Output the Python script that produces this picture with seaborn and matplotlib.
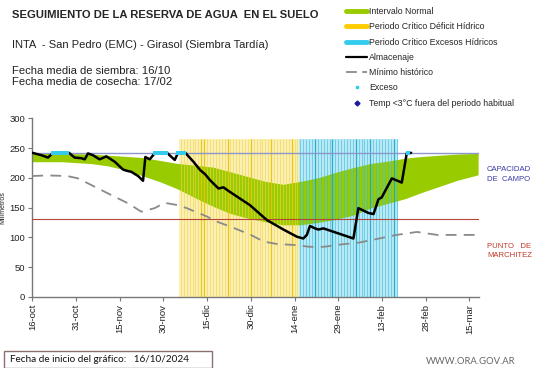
#!/usr/bin/env python3
"""Seguimiento de la reserva de agua en el suelo - INTA San Pedro, girasol."""

import matplotlib

matplotlib.use("Agg")
import matplotlib.pyplot as plt
import numpy as np
import pandas as pd
import seaborn as sns
from matplotlib.lines import Line2D
from matplotlib.patches import Rectangle

# --- data (x = days since 16-oct-2024) ---------------------------------------
tick_days = [0, 15, 30, 45, 60, 75, 90, 105, 120, 135, 150]
tick_labels = ["16-oct", "31-oct", "15-nov", "30-nov", "15-dic", "30-dic",
               "14-ene", "29-ene", "13-feb", "28-feb", "15-mar"]

band_days = [0, 10, 20, 26, 32, 38, 44, 50, 56, 62, 68, 74, 80, 86, 92, 98,
             104, 110, 116, 122, 128, 134, 140, 146, 153]
band_upper = [241, 241, 240, 238, 236, 234, 229, 224, 221, 218, 210, 202, 194,
              189, 194, 200, 209, 217, 224, 228, 233, 236, 238, 240, 241]
band_lower = [227, 227, 224, 220, 213, 203, 193, 181, 166, 152, 140, 132, 126,
              121, 121, 125, 130, 137, 149, 157, 165, 176, 186, 196, 205]

alm_days = [0, 3.1, 5.4, 7.1, 12.6, 14.5, 16.8, 18, 19.1, 20.8, 23.1, 25.4,
            28.3, 31.1, 32.3, 34, 36.3, 38, 38.8, 40.3, 41.8, 42.2, 46.2, 48.9,
            50, 52.5, 55.3, 57.6, 59.3, 61, 63.9, 65.6, 67.3, 74.7, 80.5, 86.2,
            90.8, 93, 94.2, 95.3, 97, 98.2, 99.9, 110.2, 111.9, 115.3, 117.1,
            118.8, 119.9, 123.4, 126.8, 128.5, 130]
alm_mm = [242, 238, 234, 242, 242, 234, 233, 231, 241, 238, 231, 236,
          227, 214, 212, 210, 203, 195, 235, 231, 240, 242, 242, 230,
          242, 242, 227, 213, 206, 196, 182, 184, 178, 154, 129, 113,
          101, 98, 104, 119, 115, 113, 115, 98, 149, 141, 139,
          164, 167, 199, 192, 241, 242]

min_days = [0, 5, 12, 15.7, 21.4, 27.1, 32.9, 37.4, 42, 45.4, 50, 53, 59.9,
            63, 69, 75, 79.3, 83.6, 90, 95.3, 100, 106, 112, 118, 125, 132,
            139, 146, 153]
min_mm = [203, 204, 203, 199, 185, 171, 157, 143, 149, 158, 154, 149, 135,
          127, 116, 104, 93, 89, 87, 84, 84, 88, 91, 97, 104, 109,
          104, 104, 104]

exceso_days = [7, 8, 9, 10, 11, 12, 42, 43, 44, 45, 46, 50, 51, 52, 129]

deficit_period = (51, 91)   # periodo critico deficit hidrico
excesos_period = (92, 125)  # periodo critico excesos hidricos
deficit_strong = [58, 59, 67, 75, 82, 89]
excesos_strong = [97, 103, 111, 116, 124]

capacidad_campo = 242
punto_marchitez = 130

# --- style -------------------------------------------------------------------
sns.set_style("ticks")
plt.rcParams["font.family"] = ["Liberation Sans", "DejaVu Sans"]

GREEN = "#99cc00"
YEL_PALE, YEL_LINE, YEL_STRONG = "#fbf0b8", "#f3d64a", "#e9c300"
BLU_PALE, BLU_LINE, BLU_STRONG = "#bfeaf6", "#38bedc", "#1aa7cc"
CYAN = "#33ccee"

fig = plt.figure(figsize=(5.41, 3.68), dpi=100)
W, H = 541, 368
ax = fig.add_axes([32.3 / W, 1 - 296.8 / H, (479 - 32.3) / W, (296.8 - 118.3) / H])

stripe_top = 266
for (d0, d1), pale, line, strong, strong_days in [
    (deficit_period, YEL_PALE, YEL_LINE, YEL_STRONG, deficit_strong),
    (excesos_period, BLU_PALE, BLU_LINE, BLU_STRONG, excesos_strong),
]:
    days = np.arange(d0, d1 + 1)
    ax.bar(days, stripe_top, width=1.0, color=pale, linewidth=0, zorder=1)
    ax.vlines(days, 0, stripe_top, colors=line, lw=0.8, alpha=0.6, zorder=3)
    ax.vlines(strong_days, 0, stripe_top, colors=strong, lw=0.9, alpha=0.85, zorder=3)

ax.fill_between(band_days, band_lower, band_upper, color=GREEN, lw=0, zorder=2)

ax.axhline(capacidad_campo, color="#8c98cc", lw=1.0, zorder=3.5)
ax.axhline(punto_marchitez, color="#b8453b", lw=0.8, zorder=3.5)

alm = pd.DataFrame({"dia": alm_days, "mm": alm_mm})
mini = pd.DataFrame({"dia": min_days, "mm": min_mm})
sns.lineplot(data=mini, x="dia", y="mm", ax=ax, color="#8a8a8a", lw=1.3,
             sort=False, zorder=4).lines[-1].set_dashes((6, 4))
sns.lineplot(data=alm, x="dia", y="mm", ax=ax, color="black", lw=1.8,
             sort=False, zorder=5)
ax.scatter(exceso_days, [capacidad_campo] * len(exceso_days), s=9, marker="s",
           color=CYAN, linewidths=0, zorder=6)

ax.set_xlim(0, 153.3)
ax.set_ylim(0, 300)
ax.set_xticks(tick_days)
ax.set_xticklabels(tick_labels, rotation=90, fontsize=6.8, color="#222222")
ax.set_yticks([0, 50, 100, 150, 200, 250, 300])
ax.tick_params(axis="y", labelsize=6.8, labelcolor="#222222")
ax.tick_params(length=3, width=0.8, color="#777777", pad=2)
ax.set_xlabel("")
ax.set_ylabel("Milímetros", fontsize=5, labelpad=2)
sns.despine(ax=ax)
for s in ("left", "bottom"):
    ax.spines[s].set_color("#777777")
    ax.spines[s].set_linewidth(1.0)

# --- header texts ------------------------------------------------------------
fig.text(12 / W, 1 - 15 / H, "SEGUIMIENTO DE LA RESERVA DE AGUA  EN EL SUELO",
         fontsize=8.1, fontweight="bold", va="center")
fig.text(12 / W, 1 - 45 / H, "INTA  - San Pedro (EMC) - Girasol (Siembra Tardía)",
         fontsize=8.0, va="center", color="#222222")
fig.text(12 / W, 1 - 71 / H, "Fecha media de siembra: 16/10", fontsize=8.1,
         va="center", color="#222222")
fig.text(12 / W, 1 - 82 / H, "Fecha media de cosecha: 17/02", fontsize=8.1,
         va="center", color="#222222")

# --- legend ------------------------------------------------------------------
handles = [
    Line2D([], [], color=GREEN, lw=3.5),
    Line2D([], [], color="#ffcc00", lw=3.5),
    Line2D([], [], color=CYAN, lw=3.5),
    Line2D([], [], color="black", lw=1.6),
    Line2D([], [], color="#8a8a8a", lw=1.3, dashes=(6, 3)),
    Line2D([], [], ls="", marker="s", ms=2, color=CYAN),
    Line2D([], [], ls="", marker="D", ms=2.5, color="#1a1aa0"),
]
labels = ["Intervalo Normal", "Periodo Crítico Déficit Hídrico",
          "Periodo Crítico Excesos Hídricos", "Almacenaje", "Mínimo histórico",
          "Exceso", "Temp <3°C fuera del periodo habitual"]
fig.legend(handles, labels, loc="upper left",
           bbox_to_anchor=(346 / W, 1 - 7 / H), frameon=False, fontsize=6.3,
           handlelength=2.4, handletextpad=0.25, labelspacing=0.72,
           borderpad=0, borderaxespad=0)

# --- right side labels ---------------------------------------------------------
fig.text(487 / W, 1 - 170 / H, "CAPACIDAD", fontsize=5.6, color="#3a3aa8", va="center")
fig.text(487 / W, 1 - 179.5 / H, "DE  CAMPO", fontsize=5.6, color="#3a3aa8", va="center")
fig.text(487 / W, 1 - 246.5 / H, "PUNTO   DE", fontsize=5.6, color="#c0392b", va="center")
fig.text(487 / W, 1 - 255.5 / H, "MARCHITEZ", fontsize=5.6, color="#c0392b", va="center")

# --- footer ------------------------------------------------------------------
fig.patches.append(Rectangle((3.5 / W, 0.5 / H), 208.5 / W, 16.5 / H,
                             transform=fig.transFigure, fill=False,
                             edgecolor="#8a6f6f", lw=1.0))
fig.text(10 / W, 1 - 360 / H, "Fecha de inicio del gráfico:   16/10/2024",
         fontsize=7.2, family="Lato", va="center", color="#111111")
fig.text(426 / W, 1 - 361 / H, "WWW.ORA.GOV.AR", fontsize=6.8, family="Lato",
         va="center", color="#666666")

fig.savefig("out.png", dpi=100)
